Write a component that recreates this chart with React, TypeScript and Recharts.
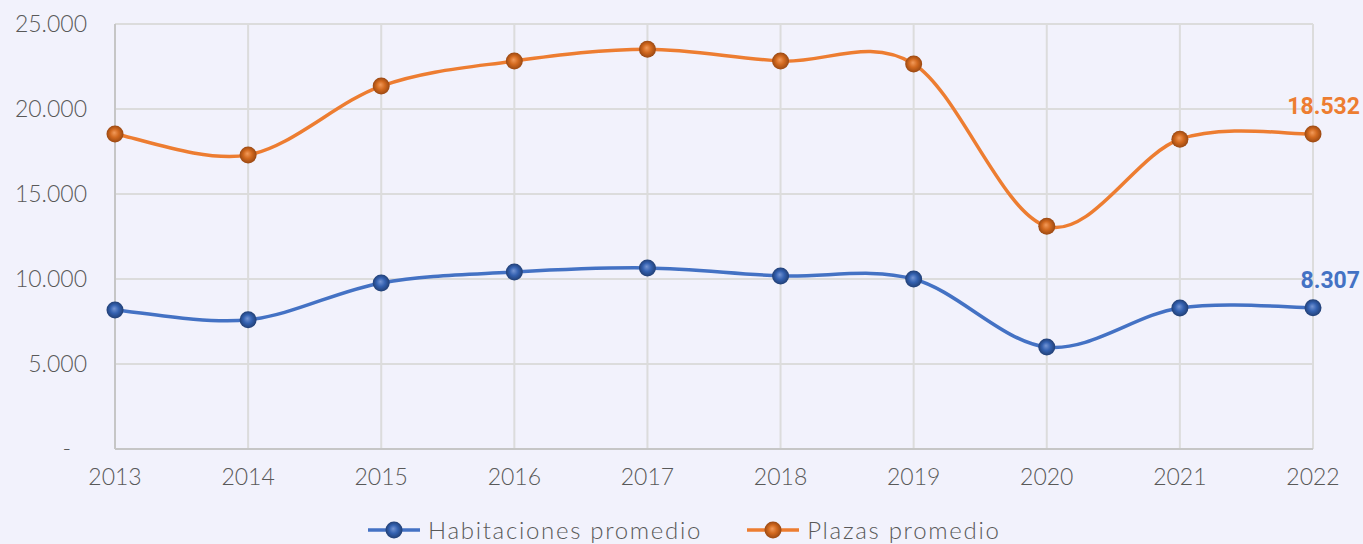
import React from "react";
import {
  LineChart,
  Line,
  XAxis,
  YAxis,
  CartesianGrid,
  LabelList,
} from "recharts";

// categorías y series
const YEARS = ["2013", "2014", "2015", "2016", "2017", "2018", "2019", "2020", "2021", "2022"];
const HABITACIONES = [8180, 7600, 9770, 10410, 10650, 10180, 10000, 6000, 8300, 8307];
const PLAZAS = [18530, 17300, 21350, 22820, 23520, 22820, 22650, 13100, 18220, 18532];
const Y_TICKS = [0, 5000, 10000, 15000, 20000, 25000];

const COLORS = {
  bg: "#F2F2FC",
  grid: "#DCDCDC",
  axis: "#C6C6C6",
  text: "#595959",
  habitaciones: "#4472C4",
  plazas: "#ED7D31",
};

const FONT = "Lato, 'Open Sans', sans-serif";

const data = YEARS.map((year, i) => ({
  year,
  habitaciones: HABITACIONES[i],
  plazas: PLAZAS[i],
}));

// separador de miles con punto, cero como "-"
const fmt = (v: number) =>
  v === 0 ? "-" : Math.round(v).toString().replace(/\B(?=(\d{3})+(?!\d))/g, ".");

// curva suavizada estilo Excel (Catmull-Rom -> Bezier)
function smoothCurve(context: any) {
  let pts: number[][] = [];
  return {
    areaStart() {},
    areaEnd() {},
    lineStart() {
      pts = [];
    },
    point(x: number, y: number) {
      pts.push([+x, +y]);
    },
    lineEnd() {
      const n = pts.length;
      if (!n) return;
      context.moveTo(pts[0][0], pts[0][1]);
      for (let i = 0; i < n - 1; i++) {
        const p0 = pts[Math.max(i - 1, 0)];
        const p1 = pts[i];
        const p2 = pts[i + 1];
        const p3 = pts[Math.min(i + 2, n - 1)];
        context.bezierCurveTo(
          p1[0] + (p2[0] - p0[0]) / 6,
          p1[1] + (p2[1] - p0[1]) / 6,
          p2[0] - (p3[0] - p1[0]) / 6,
          p2[1] - (p3[1] - p1[1]) / 6,
          p2[0],
          p2[1]
        );
      }
    },
  };
}

function Ball({ cx, cy, id }: any) {
  if (cx == null || cy == null) return null;
  return <circle cx={cx} cy={cy} r={8.5} fill={`url(#${id})`} />;
}

function YTick({ x, y, payload }: any) {
  const zero = payload.value === 0;
  return (
    <text
      x={zero ? x - 16 : x}
      y={y}
      dy="0.35em"
      textAnchor="end"
      fill={COLORS.text}
      fontSize={23}
      fontWeight={300}
      fontFamily={FONT}
    >
      {fmt(payload.value)}
    </text>
  );
}

function lastLabel(color: string, count: number) {
  return (props: any) => {
    const { y, index, value } = props;
    if (index !== count - 1) return null;
    return (
      <text
        x={1360}
        y={y - 20}
        textAnchor="end"
        fill={color}
        fontSize={23}
        fontWeight={700}
        fontFamily="Roboto, sans-serif"
      >
        {fmt(value)}
      </text>
    );
  };
}

function LegendItem({ color, id, label, gap }: any) {
  return (
    <div style={{ display: "flex", alignItems: "center", marginRight: gap }}>
      <svg width={52} height={20} style={{ marginRight: 8 }}>
        <line x1={0} y1={10} x2={52} y2={10} stroke={color} strokeWidth={3.5} />
        <circle cx={26} cy={10} r={8.5} fill={`url(#${id})`} />
      </svg>
      <span>{label}</span>
    </div>
  );
}

export default function App() {
  return (
    <div
      style={{
        position: "absolute",
        left: 0,
        top: 0,
        width: 1363,
        height: 544,
        background: COLORS.bg,
        overflow: "hidden",
      }}
    >
      <style>{"body{margin:0}"}</style>
      <svg width={0} height={0} style={{ position: "absolute" }}>
        <defs>
          <radialGradient id="ballOrange" cx="0.5" cy="0.5" r="0.5" fx="0.45" fy="0.42">
            <stop offset="0%" stopColor="#F29A5A" />
            <stop offset="50%" stopColor="#D2691F" />
            <stop offset="100%" stopColor="#9A4812" />
          </radialGradient>
          <radialGradient id="ballBlue" cx="0.5" cy="0.5" r="0.5" fx="0.45" fy="0.42">
            <stop offset="0%" stopColor="#7595D3" />
            <stop offset="50%" stopColor="#3461B0" />
            <stop offset="100%" stopColor="#213F75" />
          </radialGradient>
        </defs>
      </svg>

      <LineChart
        width={1363}
        height={544}
        data={data}
        margin={{ top: 24, right: 50, bottom: 65, left: 0 }}
      >
        <CartesianGrid stroke={COLORS.grid} strokeWidth={2} vertical horizontal />
        <XAxis
          dataKey="year"
          tickLine={false}
          tickMargin={14}
          axisLine={{ stroke: COLORS.axis, strokeWidth: 2 }}
          tick={{ fill: COLORS.text, fontSize: 23, fontWeight: 300, fontFamily: FONT }}
          interval={0}
        />
        <YAxis
          width={115}
          domain={[0, 25000]}
          ticks={Y_TICKS}
          tickLine={false}
          tickMargin={22}
          axisLine={{ stroke: COLORS.axis, strokeWidth: 2 }}
          tick={<YTick />}
          interval={0}
        />
        <Line
          dataKey="plazas"
          name="Plazas promedio"
          type={smoothCurve as any}
          stroke={COLORS.plazas}
          strokeWidth={3.5}
          dot={(p: any) => <Ball key={`p${p.index}`} {...p} id="ballOrange" />}
          activeDot={false}
          isAnimationActive={false}
        >
          <LabelList dataKey="plazas" content={lastLabel(COLORS.plazas, PLAZAS.length)} />
        </Line>
        <Line
          dataKey="habitaciones"
          name="Habitaciones promedio"
          type={smoothCurve as any}
          stroke={COLORS.habitaciones}
          strokeWidth={3.5}
          dot={(p: any) => <Ball key={`h${p.index}`} {...p} id="ballBlue" />}
          activeDot={false}
          isAnimationActive={false}
        >
          <LabelList
            dataKey="habitaciones"
            content={lastLabel(COLORS.habitaciones, HABITACIONES.length)}
          />
        </Line>
      </LineChart>

      {/* leyenda */}
      <div
        style={{
          position: "absolute",
          left: 368,
          top: 516,
          display: "flex",
          color: COLORS.text,
          fontSize: 24,
          fontWeight: 300,
          letterSpacing: 1.7,
          fontFamily: FONT,
          lineHeight: "28px",
          whiteSpace: "nowrap",
        }}
      >
        <LegendItem color={COLORS.habitaciones} id="ballBlue" label="Habitaciones promedio" gap={45} />
        <LegendItem color={COLORS.plazas} id="ballOrange" label="Plazas promedio" gap={0} />
      </div>
    </div>
  );
}
